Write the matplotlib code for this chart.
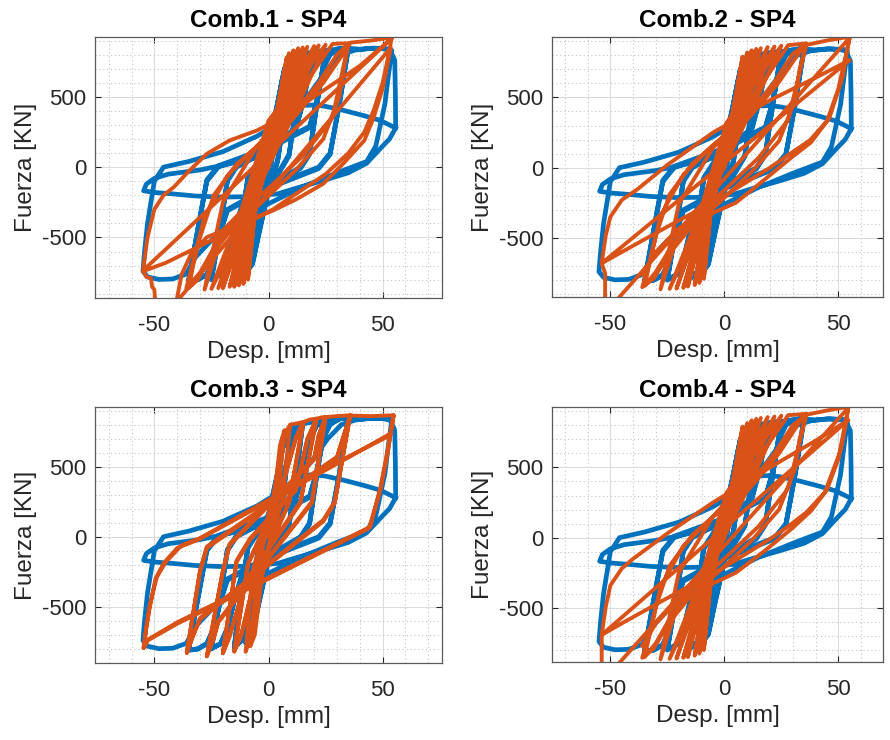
import numpy as np
import matplotlib.pyplot as plt
from matplotlib.ticker import MultipleLocator

plt.rcParams['font.family'] = ['Liberation Sans', 'DejaVu Sans']
plt.rcParams['axes.unicode_minus'] = False

titles = ['Comb.1 - SP4', 'Comb.2 - SP4', 'Comb.3 - SP4', 'Comb.4 - SP4']

# experimental loop (same in every panel): (desp mm, fuerza kN)
blue = np.array([
    (0, 0), (4, 450),
    (2, 150), (0, -80), (-2, -200), (-4, -420),
    (-2, -150), (0, 60), (2, 220), (4, 450),
    (6, 620),
    (3, 200), (0, -100), (-3, -350), (-6, -600),
    (-3, -200), (0, 100), (3, 350), (6, 620),
    (10, 780),
    (7, 380), (4, 50), (0, -160), (-4, -450), (-7, -680), (-10, -760),
    (-7, -350), (-4, -50), (0, 150), (4, 450), (7, 700), (10, 780),
    (7, 370), (4, 40), (0, -170), (-4, -460), (-7, -690), (-10, -750),
    (-7, -340), (-4, -40), (0, 160), (4, 460), (7, 700), (10, 770),
    (15, 810),
    (12, 420), (9, 90), (5, -20), (-4, -260), (-7, -450), (-10, -650), (-12, -740), (-15, -790),
    (-12, -400), (-9, -80), (-5, 20), (4, 250), (7, 450), (10, 680), (12, 770), (15, 810),
    (12, 410), (9, 80), (5, -30), (-4, -270), (-7, -460), (-10, -660), (-12, -745), (-15, -785),
    (-12, -390), (-9, -70), (-5, 30), (4, 260), (7, 460), (10, 690), (12, 775), (15, 805),
    (20, 820), (25, 830),
    (21, 430), (18, 100), (14, 0), (0, -130), (-12, -290), (-15, -450), (-18, -650), (-21, -760), (-25, -800),
    (-21, -420), (-18, -100), (-14, 0), (0, 120), (12, 270), (15, 450), (18, 680), (21, 790), (25, 830),
    (21, 420), (18, 90), (14, -10), (0, -140), (-12, -300), (-15, -460), (-18, -660), (-21, -765), (-25, -795),
    (-21, -410), (-18, -90), (-14, 10), (0, 130), (12, 280), (15, 460), (18, 690), (21, 795), (25, 825),
    (30, 840), (35, 850),
    (31, 450), (27, 100), (22, 0), (0, -140), (-18, -300), (-21, -450), (-24, -650), (-27, -760), (-31, -800), (-35, -810),
    (-31, -450), (-27, -100), (-22, 0), (0, 130), (18, 280), (21, 450), (24, 700), (27, 800), (31, 840), (35, 850),
    (31, 440), (27, 90), (22, -10), (0, -150), (-18, -310), (-21, -460), (-24, -660), (-27, -765), (-31, -800), (-35, -805),
    (-31, -440), (-27, -90), (-22, 10), (0, 140), (18, 290), (21, 460), (24, 710), (27, 805), (31, 840), (35, 845),
    (40, 838), (45, 845), (50, 842), (54, 830),
    (52.5, 650), (51, 450), (47, 150), (43, 40), (30, -40), (15, -140), (0, -260), (-15, -400), (-25, -520),
    (-32, -640), (-36, -760), (-42, -795), (-48, -798), (-53, -780), (-55, -740),
    (-54.3, -600), (-53, -400), (-50, -100), (-46, 0), (-35, 40), (-20, 110), (-5, 220), (8, 350), (18, 520),
    (26, 700), (32, 800), (38, 832), (46, 846), (53, 840), (55.3, 760), (55.6, 500), (55.7, 278),
    (53, 200), (50, 150), (43, 28), (35, -40), (24, -95), (12, -150), (4, -190), (-10, -210), (-20, -213),
    (-32, -205), (-42, -190), (-50, -180), (-54.7, -168),
    (-53.5, -120), (-50, -80), (-44, -50), (-30, -20), (-17, 24), (-5, 71), (0, 150), (5, 250), (10, 380),
    (15, 439), (20, 442), (25, 432), (33, 403), (42, 365), (49, 332), (55.7, 278),
])

# model loops, one per combination
comb1 = np.array([
    (0, 0), (2, 250),
    (8, 780), (3, 300), (-6, -330), (-9, -800), (-6, -320), (2, 280),
    (9, 810), (3, 290), (-7, -340), (-11, -830), (-7, -330), (3, 300),
    (11, 830), (4, 300), (-7, -350), (-13, -840), (-8, -340), (3, 310),
    (13, 845), (4, 290), (-8, -360), (-15, -850), (-8, -340), (2, 300),
    (15, 850), (5, 300), (-9, -360), (-17, -850), (-9, -330), (2, 310),
    (17, 855), (5, 280), (-9, -370), (-20, -860), (-10, -330), (1, 300),
    (20, 860), (6, 290), (-10, -370), (-22, -860), (-11, -320), (1, 320),
    (22, 865), (7, 280), (-10, -380), (-25, -865), (-12, -310), (0, 330),
    (25, 870), (8, 270), (-8, -250), (-20, -450), (-28, -870), (-20, -250), (-5, 150), (5, 330), (28, 875),
    (30, 878), (35, 880),
    (33, 700), (31, 500), (24, 200), (12, -20), (-3, -250), (-15, -420), (-25, -620), (-31, -800), (-35, -860),
    (-33, -700), (-30, -500), (-24, -200), (-14, 20), (0, 220), (12, 400), (22, 600), (30, 800), (35, 878),
    (28, 350), (15, 80), (0, -150), (-12, -320), (-22, -520), (-30, -750), (-36, -860),
    (-28, -350), (-18, -60), (-5, 150), (10, 330), (24, 600), (36, 885),
    (45, 900), (54, 922),
    (52, 750), (50, 600), (46, 400), (42, 250), (35, 100), (25, -50), (12, -190), (2, -300), (-12, -420),
    (-25, -520), (-45, -680), (-55, -740),
    (-53, -500), (-50, -300), (-46, -200), (-41.5, -142), (-35, -30), (-27, 95), (-17, 190), (-5, 261),
    (8, 370), (20, 500), (40, 720), (54, 915),
    (-55, -735), (-53.5, -780), (-51.5, -790), (-51, -850), (-50, -870), (-49.5, -990),
    (-42, -990), (53.6, 850), (50, 560), (46, 350), (42, 190), (33, 30), (24, -118), (12, -230), (2, -308),
    (-14, -410), (-27, -498), (-34, -620), (-38, -760), (-40, -925), (-40.5, -990),
])

comb2 = np.array([
    (0, 0), (2, 240),
    (8, 790), (3, 310), (-6, -320), (-9, -790), (-6, -330), (2, 290),
    (10, 820), (4, 300), (-7, -330), (-11, -820), (-7, -340), (3, 290),
    (12, 835), (4, 310), (-8, -340), (-13, -835), (-8, -330), (3, 300),
    (14, 845), (5, 300), (-8, -350), (-16, -845), (-9, -340), (2, 310),
    (16, 850), (5, 290), (-9, -360), (-18, -855), (-9, -320), (2, 300),
    (19, 858), (6, 300), (-10, -360), (-21, -860), (-10, -340), (1, 310),
    (22, 862), (7, 290), (-10, -370), (-24, -862), (-11, -330), (1, 320),
    (25, 868), (8, 280), (-8, -260), (-20, -460), (-28, -865), (-20, -260), (-5, 140), (5, 320), (28, 872),
    (32, 878), (36, 885),
    (33, 700), (31, 480), (24, 190), (12, -30), (-3, -260), (-15, -430), (-25, -630), (-31, -790), (-36, -850),
    (-33, -680), (-30, -480), (-24, -190), (-14, 30), (0, 230), (12, 410), (22, 610), (30, 810), (36, 880),
    (28, 340), (15, 70), (0, -160), (-12, -330), (-22, -530), (-30, -740), (-35, -840),
    (-28, -340), (-18, -50), (-5, 160), (10, 340), (24, 610), (35, 870),
    (45, 905), (55, 932),
    (53.5, 800), (52, 650), (46, 350), (37.6, 196), (28, 90), (20, 0), (0, -200), (-25, -420), (-45, -600),
    (-53.8, -680),
    (-52, -480), (-50, -350), (-45, -230), (-38, -152), (-25, 20), (-5, 250), (20, 480), (40, 640), (55, 766),
    (-53.8, -680), (-52.3, -750), (-52.3, -990),
    (-46.5, -990), (-46.5, -929), (55, 925),
    (50, 560), (45, 330), (38, 180), (30, 80), (18, -80), (5, -250), (-20, -430), (-30, -600), (-36, -760),
])

comb3 = np.array([
    (0, 0), (2, 200), (5, 650), (7, 760), (4, 250), (-3, -300), (-6, -700), (-8, -780),
    (-5, -260), (2, 250), (6, 700), (9.5, 800),
    (6, 250), (-4, -300), (-8, -720), (-10, -820), (-7, -250), (2, 280), (7, 700), (10, 800),
    (13, 810), (15.4, 818),
    (9, 250), (-6, -300), (-12, -700), (-15, -820), (-9, -200), (5, 300), (12, 700), (15, 815),
    (9, 240), (-6, -310), (-12, -710), (-15, -815), (-9, -190), (5, 310), (12, 710), (15.4, 818),
    (18, 835), (21, 842),
    (14, 250), (-10, -320), (-17, -700), (-20, -830), (-14, -180), (-8, -20), (12, 330), (17, 690), (21, 842),
    (14, 240), (-10, -330), (-17, -710), (-20, -830), (-14, -170), (-8, -10), (12, 340), (17, 700), (21, 840),
    (23, 850), (25, 855),
    (19, 250), (-22, -600), (-24, -720), (-27, -853), (-20, -250), (-17, -60), (20, 550), (22, 720), (25, 855),
    (19, 240), (-22, -610), (-24, -725), (-27, -850), (-20, -240), (-17, -50), (20, 560), (22, 725), (25, 853),
    (30, 860), (35.8, 866),
    (29, 250), (24, 120), (-30, -580), (-33, -700), (-35.8, -829), (-30, -250), (-27, -80), (30, 560), (33, 720), (35.8, 866),
    (29, 240), (24, 110), (-30, -590), (-33, -705), (-35.8, -826), (-30, -240), (-27, -70), (30, 570), (33, 725), (35.8, 864),
    (45, 860), (54.8, 866),
    (52, 600), (49, 350), (44.6, 71), (0, -290), (-40, -610), (-53, -735), (-54.8, -794),
    (-53.5, -650), (-52, -500), (-49.5, -300), (-46, -190), (-40, -80), (-31, -23), (2, 270), (30, 520),
    (53.4, 735), (54.8, 866),
    (52, 580), (49, 330), (44, 60), (0, -300), (-40, -620), (-53, -740), (-54.5, -790),
    (-53.5, -640), (-52, -490), (-49, -290), (-45, -180), (-38, -60), (-30, -10), (2, 280), (30, 530), (53, 720),
])

comb4 = np.array([
    (0, 0), (2, 250),
    (8, 790), (3, 300), (-6, -330), (-9, -800), (-6, -320), (2, 290),
    (10, 815), (4, 300), (-7, -340), (-11, -825), (-7, -330), (3, 300),
    (12, 835), (4, 300), (-8, -350), (-13, -840), (-8, -340), (3, 310),
    (14, 845), (5, 290), (-8, -360), (-16, -850), (-9, -330), (2, 300),
    (16, 852), (5, 300), (-9, -370), (-18, -855), (-9, -330), (2, 310),
    (19, 858), (6, 290), (-10, -370), (-21, -860), (-10, -330), (1, 300),
    (22, 862), (7, 280), (-10, -380), (-24, -862), (-11, -320), (1, 320),
    (25, 868), (8, 270), (-8, -250), (-20, -450), (-28, -866), (-20, -250), (-5, 150), (5, 330), (28, 872),
    (32, 876), (36, 882),
    (33, 700), (31, 490), (24, 200), (12, -20), (-3, -250), (-15, -420), (-25, -620), (-31, -790), (-36, -855),
    (-33, -690), (-30, -490), (-24, -200), (-14, 20), (0, 220), (12, 400), (22, 600), (30, 800), (36, 878),
    (28, 350), (15, 80), (0, -150), (-12, -320), (-22, -520), (-30, -750), (-35, -850),
    (-28, -350), (-18, -60), (-5, 150), (10, 330), (24, 600), (35, 872),
    (45, 905), (54.4, 932),
    (53, 780), (51, 620), (44, 320), (36, 180), (28, 80), (20, -10), (0, -210), (-25, -430), (-45, -610),
    (-53.8, -692),
    (-52, -490), (-50, -340), (-45, -220), (-40, -150), (-25, 30), (-5, 250), (20, 500), (40, 690), (54.4, 837),
    (-53.8, -692), (-53.8, -990),
    (-47.5, -990), (-47.5, -917), (54.4, 925),
    (50, 560), (45, 340), (38, 190), (30, 70), (18, -90), (5, -250), (-20, -440), (-30, -610), (-36, -770),
])

model = [comb1, comb2, comb3, comb4]

# axes boxes in figure pixels (left, top, right, bottom) of the 890x740 image
boxes = [(95, 37, 442, 298), (552, 37, 883, 297), (95, 407, 442, 663), (552, 407, 883, 662)]
xlims = [(-76, 76), (-75.6, 69.6), (-76, 76), (-75.6, 69.6)]
ylims = [(-930, 925), (-920, 930), (-900, 925), (-885, 930)]

fig = plt.figure(figsize=(8.9, 7.4), dpi=100)
for i in range(4):
    l, t, r, b = boxes[i]
    ax = fig.add_axes([l / 890, 1 - b / 740, (r - l) / 890, (b - t) / 740])
    ax.plot(blue[:, 0], blue[:, 1], color='#0072BD', lw=3.4, solid_joinstyle='round')
    ax.plot(model[i][:, 0], model[i][:, 1], color='#D95319', lw=2.8, solid_joinstyle='round')
    ax.set_xlim(xlims[i])
    ax.set_ylim(ylims[i])
    ax.set_xticks([-50, 0, 50])
    ax.set_yticks([-500, 0, 500])
    ax.xaxis.set_minor_locator(MultipleLocator(10))
    ax.yaxis.set_minor_locator(MultipleLocator(100))
    ax.grid(True, which='major', color='#dcdcdc', lw=0.8)
    ax.grid(True, which='minor', color='#c4c4c4', lw=0.8, ls=(0, (1, 2.5)))
    ax.set_axisbelow(True)
    ax.tick_params(which='major', direction='in', length=4, width=0.8, top=True, right=True,
                   labelsize=16, colors='#262626', pad=6)
    ax.tick_params(axis='x', which='major', pad=12)
    ax.tick_params(which='minor', length=0)
    for s in ax.spines.values():
        s.set_color('#5a5a5a')
        s.set_linewidth(0.9)
    ax.set_title(titles[i], fontsize=17.5, fontweight='bold', pad=7)
    ax.set_xlabel('Desp. [mm]', fontsize=17.5, color='#262626', labelpad=4)
    ax.set_ylabel('Fuerza [KN]', fontsize=17.5, color='#262626', labelpad=4)

fig.savefig('out.png', dpi=100)
